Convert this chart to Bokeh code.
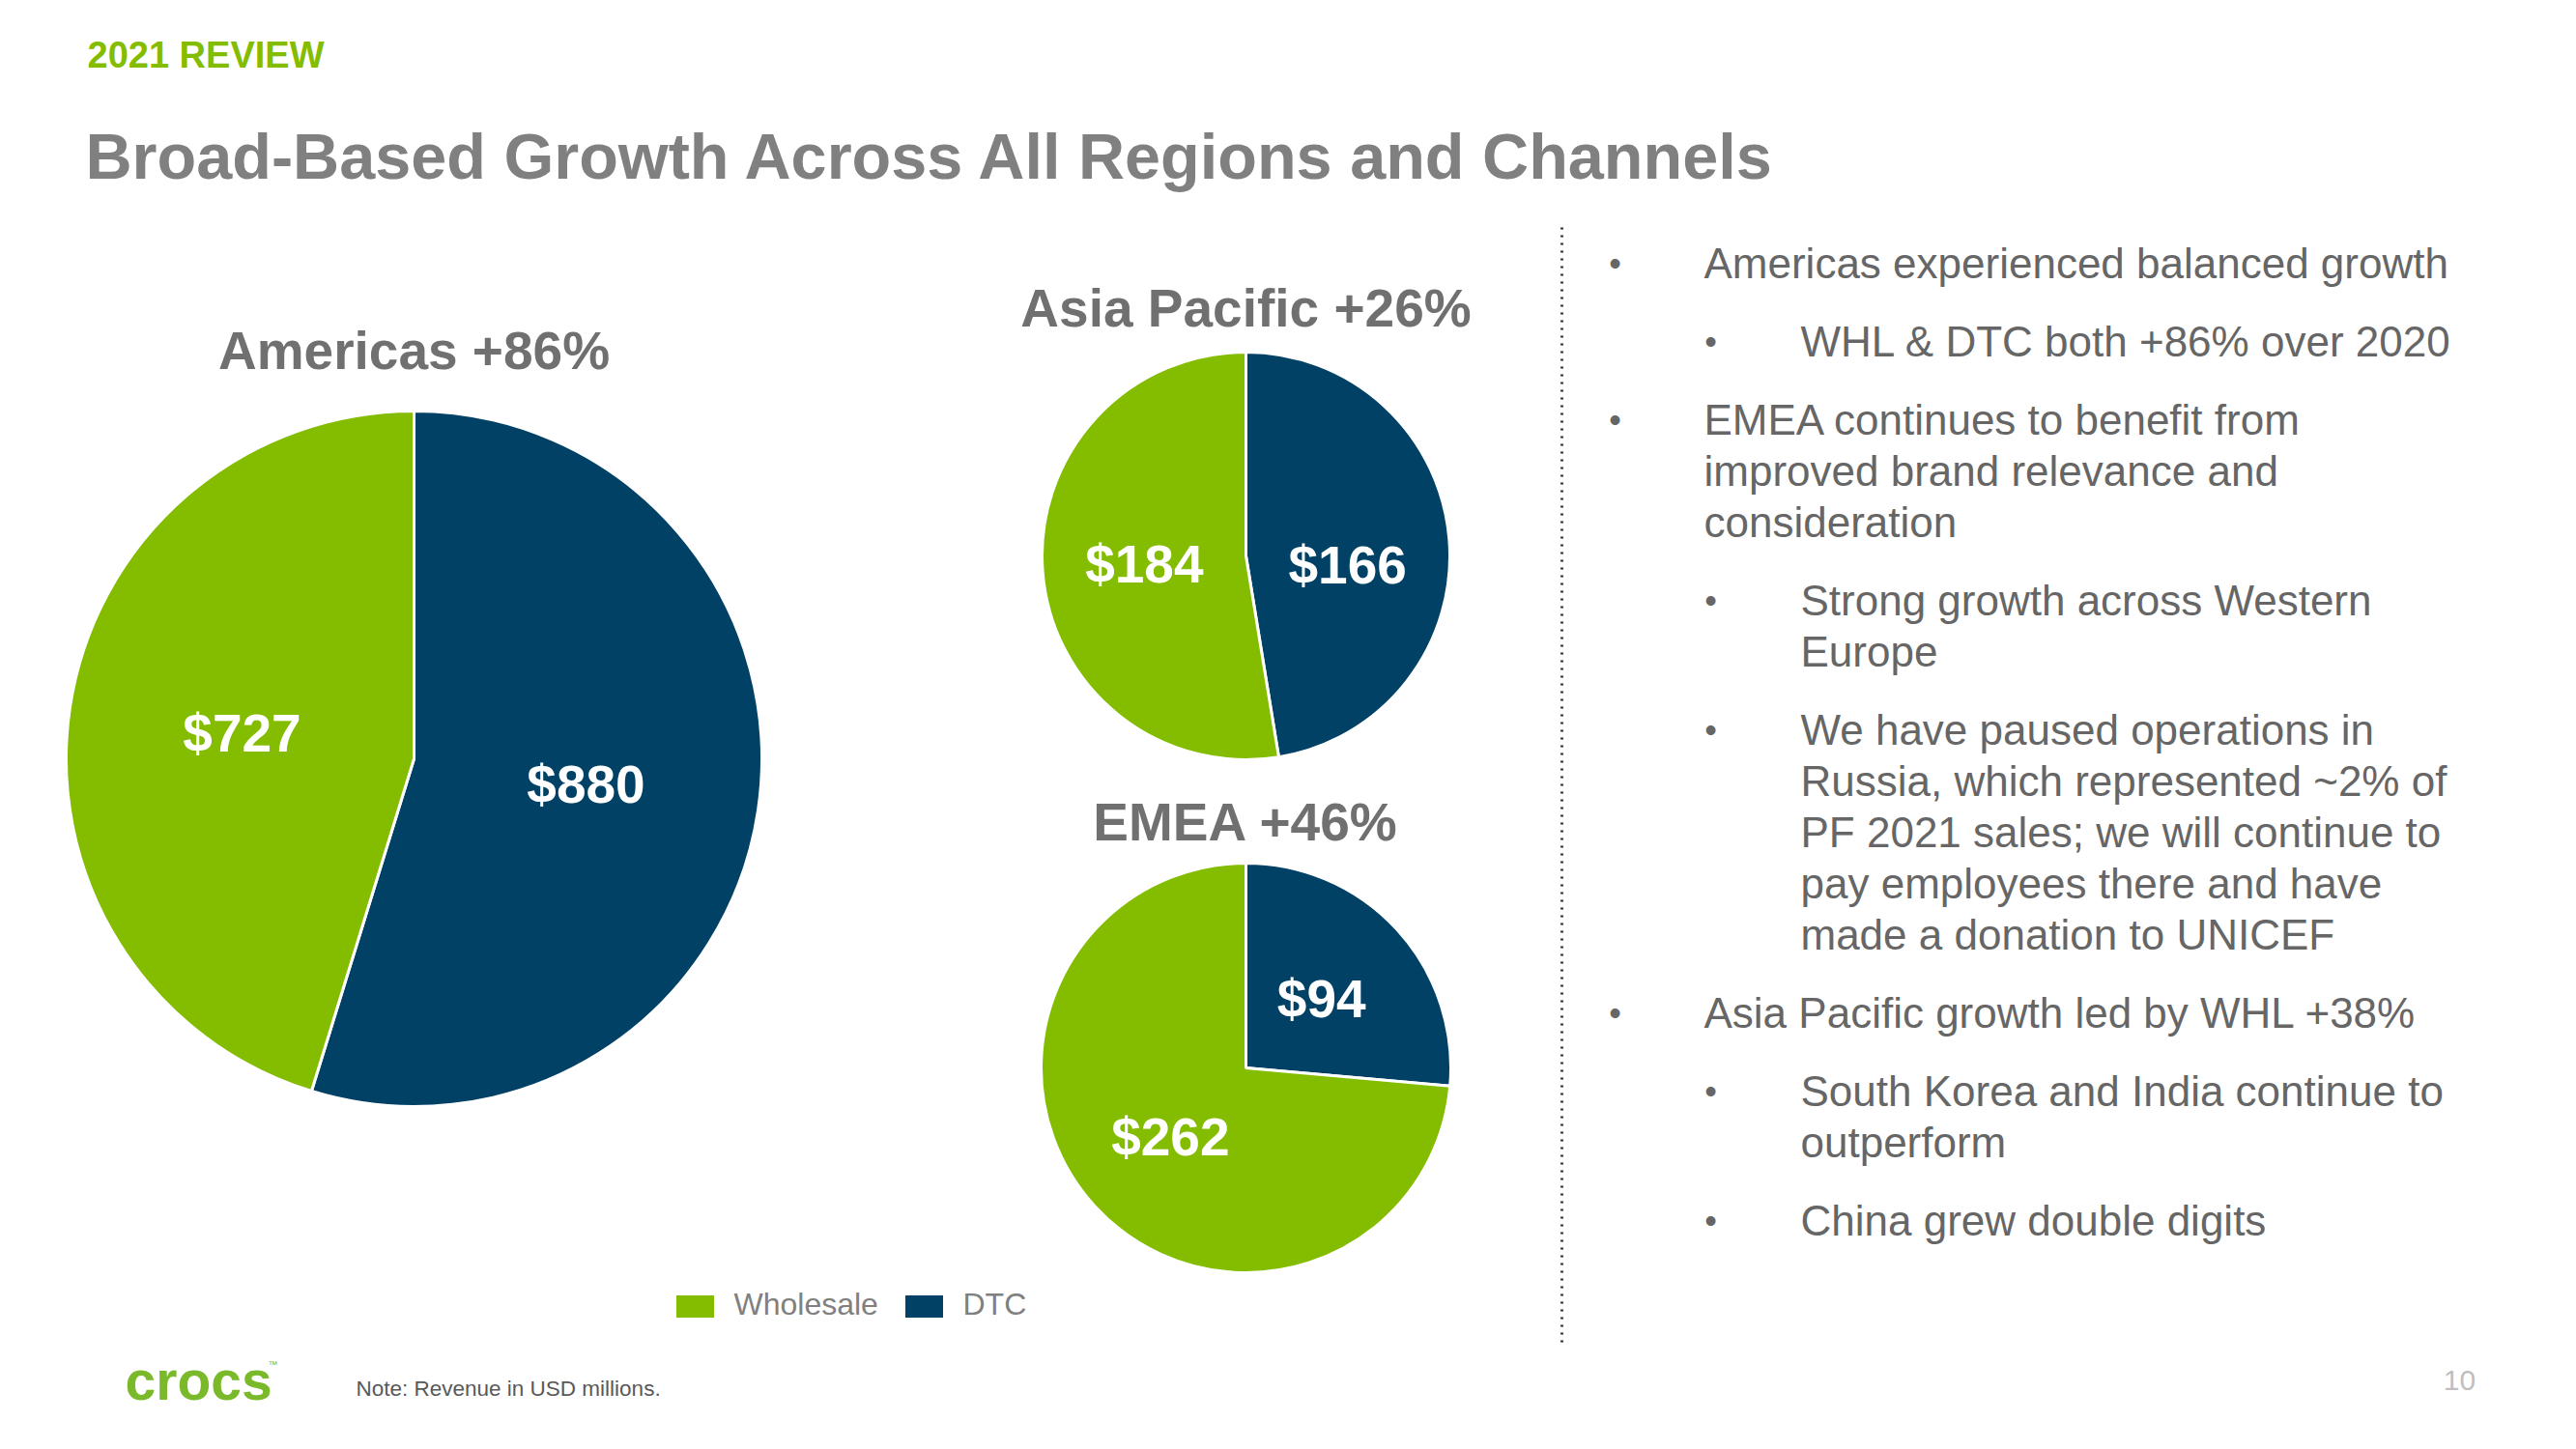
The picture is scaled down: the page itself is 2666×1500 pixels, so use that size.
import numpy as np
from bokeh.plotting import figure
from bokeh.models import ColumnDataSource, Range1d
from bokeh.embed import file_html
from bokeh.resources import INLINE
from bokeh.core.properties import value

# ---------------- data ----------------
regions = ["Americas", "Asia Pacific", "EMEA"]
growth = ["+86%", "+26%", "+46%"]
channels = ["Wholesale", "DTC"]
wholesale = [727, 184, 262]
dtc = [880, 166, 94]

bullets = [
    (1, ["Americas experienced balanced growth"]),
    (2, ["WHL & DTC both +86% over 2020"]),
    (1, ["EMEA continues to benefit from", "improved brand relevance and", "consideration"]),
    (2, ["Strong growth across Western", "Europe"]),
    (2, ["We have paused operations in", "Russia, which represented ~2% of",
         "PF 2021 sales; we will continue to", "pay employees there and have",
         "made a donation to UNICEF"]),
    (1, ["Asia Pacific growth led by WHL +38%"]),
    (2, ["South Korea and India continue to", "outperform"]),
    (2, ["China grew double digits"]),
]

# ---------------- style / layout ----------------
W, H = 2666, 1500
GREEN = "#84BD00"
NAVY = "#004165"
FONT = value("Liberation Sans")
colors = {"Wholesale": GREEN, "DTC": NAVY}

def Y(sy):
    return H - sy

pie_layout = {
    "Americas": dict(cx=428, cy=785, r=360, ty=362),
    "Asia Pacific": dict(cx=1289, cy=575, r=211, ty=318),
    "EMEA": dict(cx=1289, cy=1105, r=212, ty=850),
}
# manual label nudges (screen px, down positive), as placed on the slide
label_nudge = {("Asia Pacific", "DTC"): 18}

p = figure(width=W, height=H, x_range=Range1d(0, W), y_range=Range1d(0, H),
           output_backend="svg", toolbar_location=None,
           x_axis_location=None, y_axis_location=None,
           min_border=0, min_border_left=0, min_border_right=0,
           min_border_top=0, min_border_bottom=0)
p.grid.visible = False
p.outline_line_color = None
p.background_fill_color = "white"
p.border_fill_color = "white"

# ---------------- pies ----------------
wd = dict(x=[], y=[], r=[], start=[], end=[], color=[])
lb = dict(x=[], y=[], text=[])
tt = dict(x=[], y=[], text=[])
for reg, g, w, d in zip(regions, growth, wholesale, dtc):
    L = pie_layout[reg]
    cx, cy, r = L["cx"], Y(L["cy"]), L["r"]
    vals = [d, w]                # DTC first, clockwise from 12 o'clock
    names = ["DTC", "Wholesale"]
    cum = np.concatenate([[0], np.cumsum(vals)]) / sum(vals) * 2 * np.pi
    for i, (v, nm) in enumerate(zip(vals, names)):
        a0 = np.pi / 2 - cum[i]
        a1 = np.pi / 2 - cum[i + 1]
        wd["x"].append(cx); wd["y"].append(cy); wd["r"].append(r)
        wd["start"].append(a0); wd["end"].append(a1)
        wd["color"].append(colors[nm])
        mid = (a0 + a1) / 2
        lb["x"].append(cx + 0.5 * r * np.cos(mid))
        lb["y"].append(cy + 0.5 * r * np.sin(mid) - label_nudge.get((reg, nm), 0))
        lb["text"].append(f"${v}")
    tt["x"].append(cx); tt["y"].append(Y(L["ty"])); tt["text"].append(f"{reg} {g}")

p.wedge(x="x", y="y", radius="r", start_angle="start", end_angle="end",
        direction="clock", fill_color="color", line_color="white", line_width=3,
        source=ColumnDataSource(wd))
p.text(x="x", y="y", text="text", source=ColumnDataSource(lb),
       text_font=FONT, text_font_style="bold", text_font_size="55px",
       text_color="white", text_align="center", text_baseline="middle")
p.text(x="x", y="y", text="text", source=ColumnDataSource(tt),
       text_font=FONT, text_font_style="bold", text_font_size="55px",
       text_color="#707070", text_align="center", text_baseline="middle")

# ---------------- header ----------------
p.text(x=[90], y=[Y(56)], text=["2021 REVIEW"], text_font=FONT, text_font_style="bold",
       text_font_size="38px", text_color=GREEN, text_align="left", text_baseline="middle")
p.text(x=[88], y=[Y(161)], text=["Broad-Based Growth Across All Regions and Channels"],
       text_font=FONT, text_font_style="bold", text_font_size="66.6px",
       text_color="#808080", text_align="left", text_baseline="middle")

# ---------------- legend ----------------
key_x = [719, 956]
txt_x = [759, 996]
p.rect(x=key_x, y=[Y(1352)] * 2, width=39, height=23,
       fill_color=[colors[c] for c in channels], line_color=None)
p.text(x=txt_x, y=[Y(1349)] * 2, text=channels, text_font=FONT, text_font_size="32px",
       text_color="#808080", text_align="left", text_baseline="middle")

# ---------------- divider ----------------
p.line(x=[1616, 1616], y=[Y(235), Y(1392)], line_color="#333333", line_width=3,
       line_dash="2 6")

# ---------------- bullets ----------------
bx = {1: 1671, 2: 1770}
tx = {1: 1763, 2: 1863}
bt = dict(x=[], y=[], text=[])
bb = dict(x=[], y=[], text=[])
y0, para_step, line_step = 272, 81, 53
wraps = 0
for k, (lvl, lines) in enumerate(bullets):
    ytop = y0 + k * para_step + wraps * line_step
    bb["x"].append(bx[lvl]); bb["y"].append(Y(ytop)); bb["text"].append("\u2022")
    for j, ln in enumerate(lines):
        bt["x"].append(tx[lvl]); bt["y"].append(Y(ytop + j * line_step)); bt["text"].append(ln)
    wraps += len(lines) - 1
p.text(x="x", y="y", text="text", source=ColumnDataSource(bt), text_font=FONT,
       text_font_size="44px", text_color="#666666", text_align="left", text_baseline="middle")
p.text(x="x", y="y", text="text", source=ColumnDataSource(bb), text_font=FONT,
       text_font_size="36px", text_color="#666666", text_align="center", text_baseline="middle")

# ---------------- footer ----------------
p.text(x=[129], y=[Y(1428)], text=["crocs"], text_font=FONT, text_font_style="bold",
       text_font_size="57px", text_color="#7AB929", text_align="left", text_baseline="middle")
p.text(x=[277], y=[Y(1412)], text=["\u2122"], text_font=FONT, text_font_size="10px",
       text_color="#7AB929", text_align="left", text_baseline="middle")
p.text(x=[368], y=[Y(1437)], text=["Note: Revenue in USD millions."], text_font=FONT,
       text_font_size="22.5px", text_color="#595959", text_align="left", text_baseline="middle")
p.text(x=[2545], y=[Y(1428)], text=["10"], text_font=FONT, text_font_size="30px",
       text_color="#BFBFBF", text_align="center", text_baseline="middle")

open("out.html", "w").write(file_html(p, INLINE))
